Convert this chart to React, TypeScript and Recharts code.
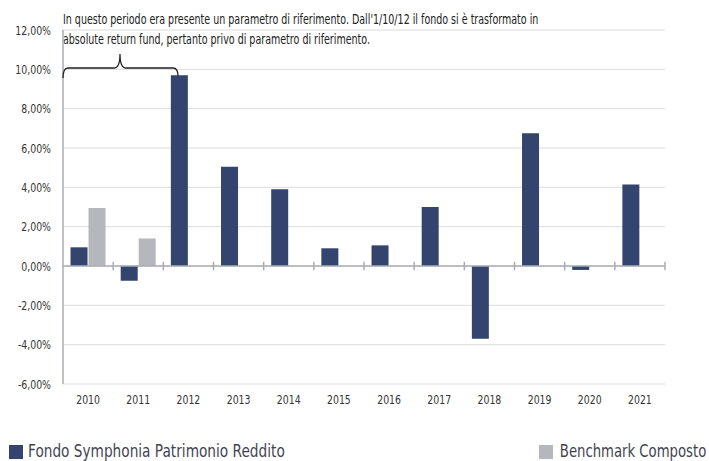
import React from 'react';
import {
  BarChart, Bar, XAxis, YAxis, CartesianGrid, ReferenceLine,
} from 'recharts';

const FONT = '"DejaVu Sans", sans-serif';
const SQUEEZE = 0.72;

const YEARS = ['2010', '2011', '2012', '2013', '2014', '2015', '2016', '2017', '2018', '2019', '2020', '2021'];
const FONDO = [0.95, -0.75, 9.7, 5.05, 3.9, 0.9, 1.05, 3.0, -3.7, 6.75, -0.2, 4.15];
const BENCHMARK = [2.95, 1.4, null, null, null, null, null, null, null, null, null, null];
const Y_TICKS = [-6, -4, -2, 0, 2, 4, 6, 8, 10, 12];

const FONDO_COLOR = '#33446e';
const BENCH_COLOR = '#b4b7bb';
const AXIS_COLOR = '#a9aeb4';

const data = YEARS.map((year, i) => ({ year, fondo: FONDO[i], benchmark: BENCHMARK[i] }));

const fmt = (v: number) => `${v.toFixed(2).replace('.', ',')}%`;

// narrow tick text, the original uses a condensed face
const NarrowTick = (props: any) => {
  const { x, y, payload, textAnchor, formatter } = props;
  const label = formatter ? formatter(payload.value) : payload.value;
  return (
    <g transform={`translate(${x},${y}) scale(${SQUEEZE},1)`}>
      <text x={0} y={0} textAnchor={textAnchor} fontSize={13} fill="#333" fontFamily={FONT} dominantBaseline={textAnchor === 'end' ? 'central' : 'hanging'}>
        {label}
      </text>
    </g>
  );
};

const squeezed = (k: number, origin = 'left top'): React.CSSProperties => ({
  position: 'absolute',
  whiteSpace: 'nowrap',
  transform: `scaleX(${k})`,
  transformOrigin: origin,
});

export default function App() {
  return (
    <div style={{ position: 'absolute', left: 0, top: 0, width: 709, height: 461, fontFamily: FONT, background: '#fff', overflow: 'hidden' }}>
      <div style={{ ...squeezed(0.705), left: 63, top: 9, fontSize: 13.5, lineHeight: '20px', color: '#222' }}>
        In questo periodo era presente un parametro di riferimento. Dall'1/10/12 il fondo si è trasformato in<br />
        absolute return fund, pertanto privo di parametro di riferimento.
      </div>
      <BarChart
        width={709}
        height={414}
        data={data}
        margin={{ top: 30, right: 44, bottom: 0, left: 0 }}
        barCategoryGap="15%"
        barGap={1}
      >
        <CartesianGrid vertical={false} stroke="#dcdcdc" />
        <XAxis
          dataKey="year"
          axisLine={false}
          tickLine={false}
          tickSize={0}
          tickMargin={10}
          height={30}
          tick={<NarrowTick />}
        />
        <YAxis
          domain={[-6, 12]}
          ticks={Y_TICKS}
          width={63}
          tickSize={0}
          tickMargin={12}
          tickLine={false}
          axisLine={{ stroke: AXIS_COLOR, strokeWidth: 1.5 }}
          tick={<NarrowTick formatter={fmt} />}
        />
        <Bar dataKey="fondo" fill={FONDO_COLOR} isAnimationActive={false} />
        <Bar dataKey="benchmark" fill={BENCH_COLOR} isAnimationActive={false} />
        <ReferenceLine y={0} stroke={AXIS_COLOR} strokeWidth={1.5} />
        {YEARS.map((year) => (
          <ReferenceLine
            key={year}
            position="end"
            segment={[{ x: year, y: -0.22 }, { x: year, y: 0.22 }]}
            stroke={AXIS_COLOR}
            strokeWidth={1.5}
          />
        ))}
      </BarChart>
      <svg style={{ position: 'absolute', left: 0, top: 0 }} width={709} height={100}>
        <path
          d="M63,78 Q63,68 68,68 L114,68 Q120,68 120,54 Q120,68 126,68 L173,68 Q178,68 178,76"
          fill="none"
          stroke="#222"
          strokeWidth={1.3}
        />
      </svg>
      <span style={{ position: 'absolute', left: 9, top: 445, width: 14, height: 14, background: FONDO_COLOR }} />
      <div style={{ ...squeezed(0.76), left: 28, top: 440, fontSize: 18, color: '#3f4452' }}>
        Fondo Symphonia Patrimonio Reddito
      </div>
      <span style={{ position: 'absolute', left: 539, top: 445, width: 14, height: 14, background: BENCH_COLOR }} />
      <div style={{ ...squeezed(0.735, 'right top'), right: 3, top: 440, fontSize: 18, color: '#3f4452' }}>
        Benchmark Composto
      </div>
    </div>
  );
}
